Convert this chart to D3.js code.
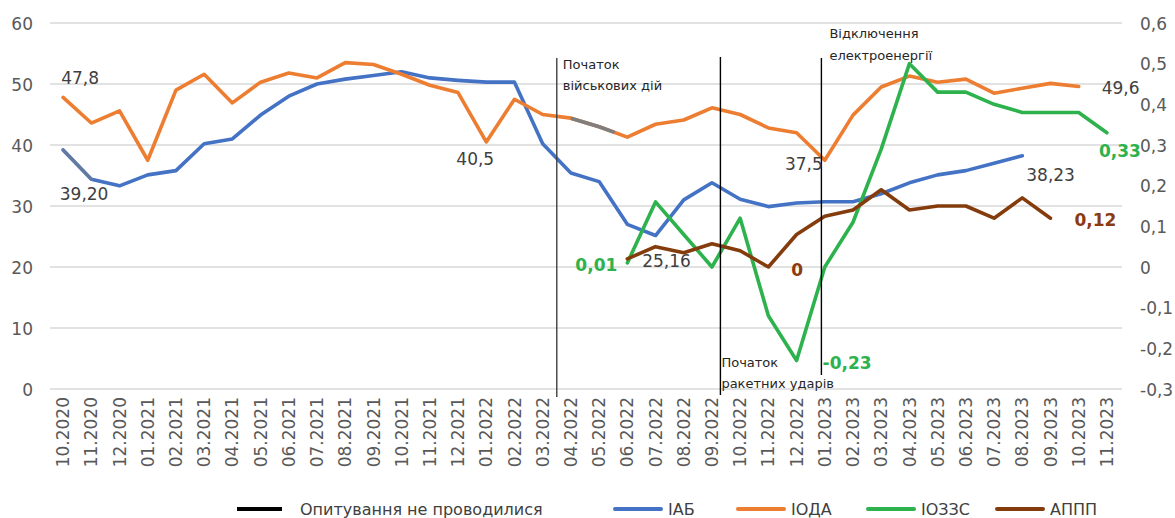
<!DOCTYPE html>
<html><head><meta charset="utf-8">
<script src="https://cdn.jsdelivr.net/npm/d3@7/dist/d3.min.js"></script>
<style>
html,body{margin:0;padding:0;background:#fff;}
svg{display:block;font-family:"DejaVu Sans",sans-serif;}
</style></head>
<body>
<svg id="chart" width="1175" height="518"></svg>
<script>
const categories = ["10.2020","11.2020","12.2020","01.2021","02.2021","03.2021","04.2021","05.2021","06.2021","07.2021","08.2021","09.2021","10.2021","11.2021","12.2021","01.2022","02.2022","03.2022","04.2022","05.2022","06.2022","07.2022","08.2022","09.2022","10.2022","11.2022","12.2022","01.2023","02.2023","03.2023","04.2023","05.2023","06.2023","07.2023","08.2023","09.2023","10.2023","11.2023"];
const iab  = [39.2,34.4,33.3,35.1,35.8,40.2,41.0,44.9,48.0,50.0,50.8,51.4,52.0,51.0,50.6,50.3,50.3,40.2,35.4,34.0,27.0,25.16,31.0,33.8,31.1,29.9,30.5,30.7,30.7,32.0,33.8,35.1,35.8,37.0,38.23,null,null,null];
const ioda = [47.8,43.6,45.6,37.5,49.0,51.6,46.9,50.3,51.8,51.0,53.5,53.2,51.6,49.8,48.6,40.5,47.5,45.0,44.4,43.0,41.3,43.4,44.1,46.1,45.0,42.8,42.0,37.5,44.9,49.5,51.3,50.3,50.8,48.5,49.3,50.1,49.6,null];
const iozzs = [null,null,null,null,null,null,null,null,null,null,null,null,null,null,null,null,null,null,null,null,0.01,0.16,0.08,0.0,0.12,-0.12,-0.23,0.0,0.11,0.29,0.50,0.43,0.43,0.40,0.38,0.38,0.38,0.33];
const appp = [null,null,null,null,null,null,null,null,null,null,null,null,null,null,null,null,null,null,null,null,0.02,0.05,0.035,0.057,0.04,0.0,0.08,0.125,0.14,0.19,0.14,0.15,0.15,0.12,0.17,0.12,null,null];
const leftTicks = [0,10,20,30,40,50,60];
const rightTicks = [-0.3,-0.2,-0.1,0,0.1,0.2,0.3,0.4,0.5,0.6];
const seriesNames = ["ІАБ","ІОДА","ІОЗЗС","АППП"];
const noSurveyLabel = "Опитування не проводилися";
const events = [
  {cat:"03.2022", shift:0.5,  lines:["Початок","військових дій"]},
  {cat:"09.2022", shift:0.3,  lines:["Початок","ракетних ударів"]},
  {cat:"01.2023", shift:-0.12,lines:["Відключення","електроенергії"]}
];
// labels: series, category, text
const valueLabels = [
  {s:1, cat:"10.2020", text:"47,8"},
  {s:0, cat:"10.2020", text:"39,20"},
  {s:1, cat:"01.2022", text:"40,5"},
  {s:0, cat:"07.2022", text:"25,16"},
  {s:1, cat:"01.2023", text:"37,5"},
  {s:0, cat:"08.2023", text:"38,23"},
  {s:1, cat:"10.2023", text:"49,6"},
  {s:2, cat:"11.2023", text:"0,33"},
  {s:3, cat:"09.2023", text:"0,12"},
  {s:2, cat:"06.2022", text:"0,01"},
  {s:3, cat:"11.2022", text:"0"},
  {s:2, cat:"12.2022", text:"-0,23"}
];

// ---- styles / layout ----
const colors = ["#4472C4","#ED7D31","#2DB24D","#843C0C"];
const labelColors = ["#404040","#404040","#2DB24D","#8B3A12"];
const labelStyle = [
  {dx:17, dy:-13, anchor:"middle"},
  {dx:21, dy:50, anchor:"middle"},
  {dx:-11, dy:23, anchor:"middle"},
  {dx:11, dy:31, anchor:"middle"},
  {dx:-2, dy:10, anchor:"end"},
  {dx:4, dy:25, anchor:"start"},
  {dx:23, dy:8, anchor:"start"},
  {dx:13, dy:24, anchor:"middle"},
  {dx:24, dy:8, anchor:"start"},
  {dx:-10, dy:8, anchor:"end"},
  {dx:23, dy:9, anchor:"start"},
  {dx:26, dy:8, anchor:"start"}
];
const eventStyle = [
  {y1:58, y2:397, tx:6, ty:[69,90], color:"#404040"},
  {y1:57, y2:395, tx:1, ty:[367,388], color:"#000"},
  {y1:58, y2:375, tx:8, ty:[38,60], color:"#000"}
];

const svg = d3.select("#chart");
const x = d3.scaleBand().domain(categories).range([49,1121]).padding(0);
const cx = c => x(c) + x.bandwidth()/2;
const yL = d3.scaleLinear().domain([0,60]).range([389,23]);
const yR = d3.scaleLinear().domain([-0.3,0.6]).range([389,23]);

// gridlines
svg.append("g").selectAll("line").data(leftTicks).join("line")
  .attr("x1",50).attr("x2",1122)
  .attr("y1",d=>yL(d)).attr("y2",d=>yL(d))
  .attr("stroke","#d9d9d9").attr("stroke-width",1.5);

// left axis
const axL = svg.append("g").attr("transform","translate(33,0)")
  .call(d3.axisLeft(yL).tickValues(leftTicks).tickSize(0).tickPadding(0).tickFormat(d3.format("d")));
axL.select(".domain").remove();
axL.selectAll("text").attr("fill","#595959").style("font-size","17px").style("font-family","DejaVu Sans").attr("dy","0.36em");

// right axis
const fmtR = d => d===0 ? "0" : d3.format(".1f")(d).replace(".",",").replace("−","-");
const axR = svg.append("g").attr("transform","translate(1140,0)")
  .call(d3.axisRight(yR).tickValues(rightTicks).tickSize(0).tickPadding(0).tickFormat(fmtR));
axR.select(".domain").remove();
axR.selectAll("text").attr("fill","#595959").style("font-size","17px").style("font-family","DejaVu Sans").attr("dy","0.36em");

// x axis labels
const axX = svg.append("g").attr("transform","translate(0,397)")
  .call(d3.axisBottom(x).tickSize(0).tickPadding(0));
axX.select(".domain").remove();
axX.selectAll("text")
  .attr("fill","#595959").style("font-size","17px").style("font-family","DejaVu Sans")
  .attr("transform","rotate(-90)").attr("text-anchor","end")
  .attr("x",0).attr("y",0).attr("dy","0.36em");

// lines
const data = [iab, ioda, iozzs, appp];
const scales = [yL, yL, yR, yR];
data.forEach((arr,i)=>{
  const line = d3.line().defined(d=>d.v!=null).x(d=>cx(d.c)).y(d=>scales[i](d.v));
  svg.append("path")
    .datum(arr.map((v,j)=>({c:categories[j], v})))
    .attr("d", line).attr("fill","none")
    .attr("stroke", colors[i]).attr("stroke-width",3.6)
    .attr("stroke-linejoin","round").attr("stroke-linecap","round");
});

// "no survey" gray segments
const seg = (arr, sc, i0, i1, frac) => {
  const p0 = [cx(categories[i0]), sc(arr[i0])];
  const p1 = [cx(categories[i1]), sc(arr[i1])];
  return [p0, [p0[0]+(p1[0]-p0[0])*frac, p0[1]+(p1[1]-p0[1])*frac]];
};
svg.append("path").attr("d", d3.line()(seg(iab,yL,0,1,1)))
  .attr("stroke","#7f7f7f").attr("stroke-opacity",0.55).attr("stroke-width",3).attr("fill","none").attr("stroke-linecap","round");
const g1 = seg(ioda,yL,18,19,1), g2 = seg(ioda,yL,19,20,0.55);
svg.append("path").attr("d", d3.line()([g1[0],g1[1],g2[1]]))
  .attr("stroke","#7f7f7f").attr("stroke-width",3.6).attr("fill","none");

// event lines and texts
events.forEach((e,i)=>{
  const st = eventStyle[i];
  const xe = cx(e.cat) + e.shift*x.step();
  svg.append("line").attr("x1",xe).attr("x2",xe).attr("y1",st.y1).attr("y2",st.y2)
    .attr("stroke",st.color).attr("stroke-width",1.4);
  e.lines.forEach((t,k)=>{
    svg.append("text").attr("x",xe+st.tx).attr("y",st.ty[k])
      .attr("fill","#262626").style("font-size","13px").text(t);
  });
});

// value labels
valueLabels.forEach((l,i)=>{
  const st = labelStyle[i];
  const v = data[l.s][categories.indexOf(l.cat)];
  const px = cx(l.cat), py = scales[l.s](v);
  svg.append("text").attr("x",px+st.dx).attr("y",py+st.dy)
    .attr("text-anchor",st.anchor)
    .attr("fill",labelColors[l.s])
    .style("font-size","17px")
    .style("font-weight", l.s>=2 ? "bold" : "normal")
    .text(l.text);
});

// legend
const lg = svg.append("g");
lg.append("line").attr("x1",237).attr("x2",282).attr("y1",509).attr("y2",509).attr("stroke","#000").attr("stroke-width",4);
lg.append("text").attr("x",300).attr("y",515).attr("fill","#404040").style("font-size","16px").text(noSurveyLabel);
const legX = [615,738,868,997];
seriesNames.forEach((n,i)=>{
  lg.append("line").attr("x1",legX[i]).attr("x2",legX[i]+46).attr("y1",509).attr("y2",509)
    .attr("stroke",colors[i]).attr("stroke-width",4).attr("stroke-linecap","round");
  lg.append("text").attr("x",legX[i]+53).attr("y",515).attr("fill","#404040").style("font-size","16px").text(n);
});
</script>
</body></html>
